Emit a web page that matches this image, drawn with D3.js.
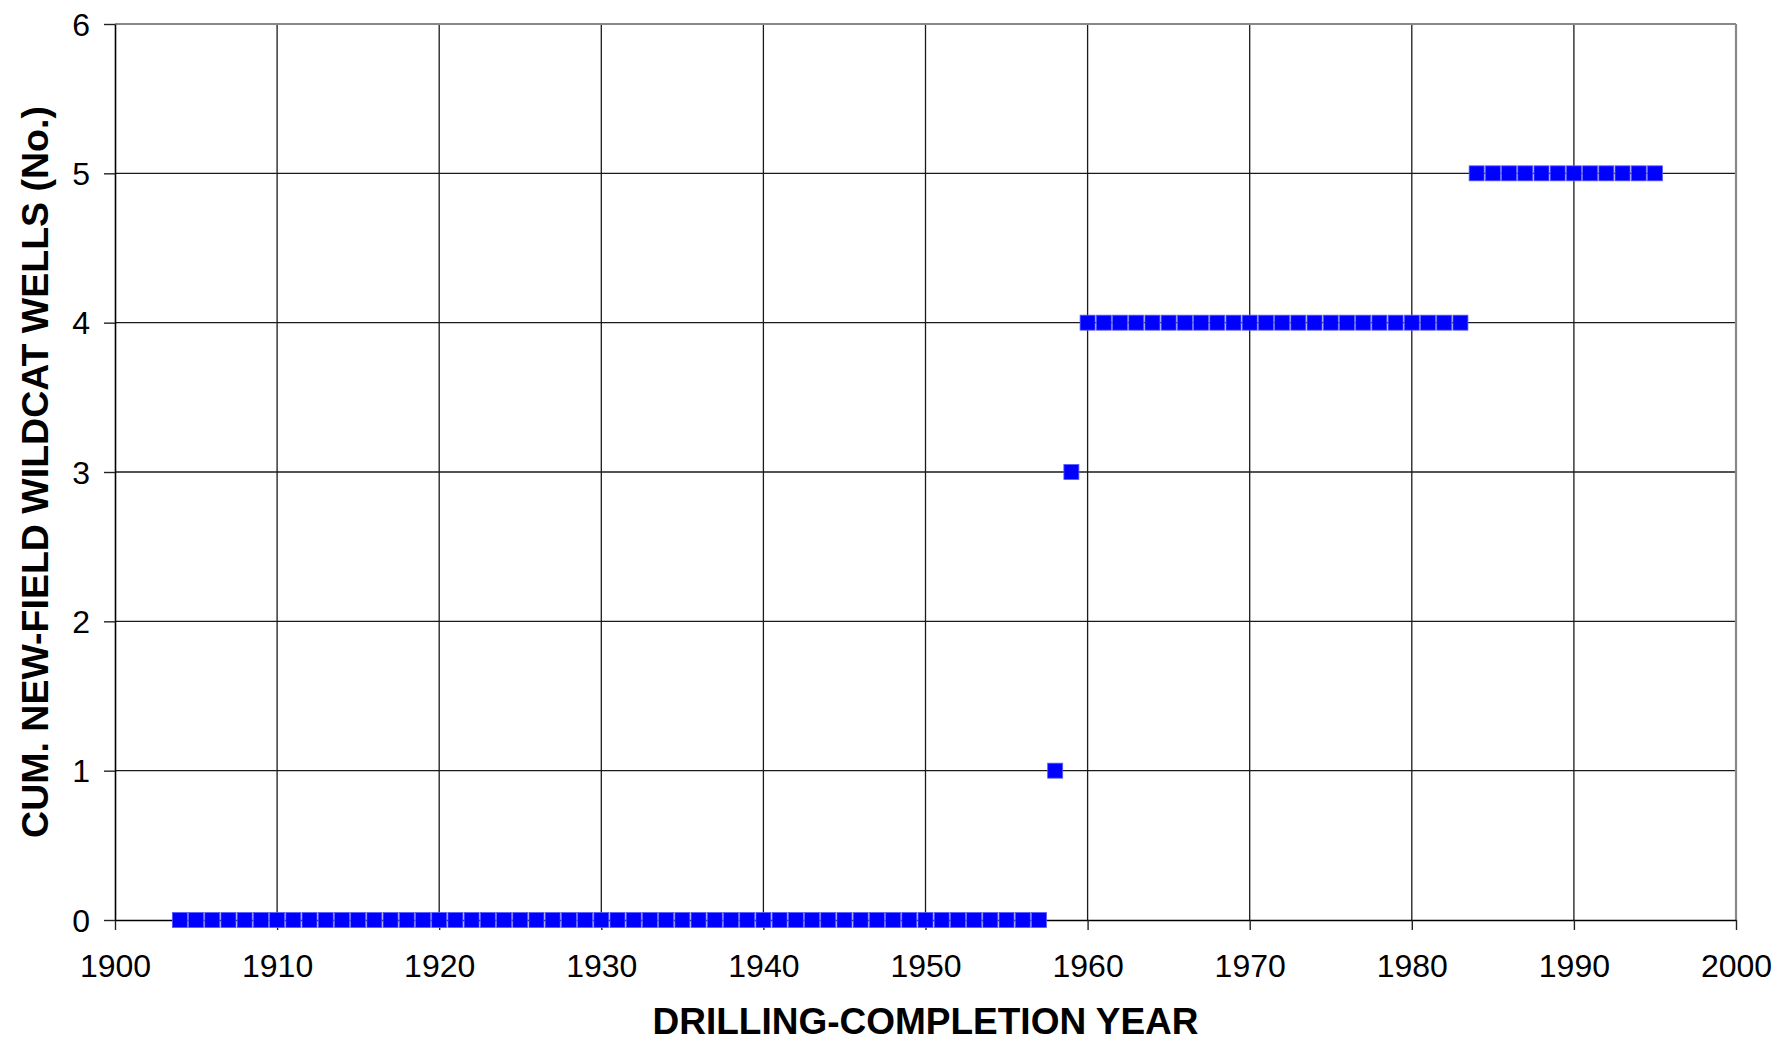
<!DOCTYPE html>
<html>
<head>
<meta charset="utf-8">
<script src="https://cdn.jsdelivr.net/npm/d3@7"></script>
<style>
  html, body { margin: 0; padding: 0; background: #fff; }
  svg { display: block; font-family: Arial, "Liberation Sans", sans-serif; }
</style>
</head>
<body>
<svg id="chart" width="1777" height="1042"></svg>
<script>
// Data
const years0 = d3.range(1904, 1958);           // 1904..1957 -> 0
const years1 = [1958];                          // 1
const years3 = [1959];                          // 3
const years4 = d3.range(1960, 1984);           // 1960..1983 -> 4
const years5 = d3.range(1984, 1996);           // 1984..1995 -> 5
const cumWells = [
  ...years0.map(yr => [yr, 0]),
  ...years1.map(yr => [yr, 1]),
  ...years3.map(yr => [yr, 3]),
  ...years4.map(yr => [yr, 4]),
  ...years5.map(yr => [yr, 5])
];
const xTicks = [1900, 1910, 1920, 1930, 1940, 1950, 1960, 1970, 1980, 1990, 2000];
const yTicks = [0, 1, 2, 3, 4, 5, 6];
const xTitle = "DRILLING-COMPLETION YEAR";
const yTitle = "CUM. NEW-FIELD WILDCAT WELLS (No.)";

(function () {
const svg = d3.select("#chart");
const pL = 115, pR = 1736, pT = 24, pB = 920;

const x = d3.scaleLinear().domain([1900, 2000]).range([pL, pR]);
const y = d3.scaleLinear().domain([0, 6]).range([pB, pT]);

// Gridlines
const grid = svg.append("g");
grid.selectAll("line.h").data(yTicks.slice(1, -1)).enter().append("line")
  .attr("class", "h")
  .attr("x1", pL).attr("x2", pR)
  .attr("y1", d => y(d)).attr("y2", d => y(d))
  .attr("stroke", "#1a1a1a").attr("stroke-width", 1.3);
grid.selectAll("line.v").data(xTicks.slice(1, -1)).enter().append("line")
  .attr("class", "v")
  .attr("y1", pT).attr("y2", pB)
  .attr("x1", d => x(d)).attr("x2", d => x(d))
  .attr("stroke", "#1a1a1a").attr("stroke-width", 1.3);

// Top and right border (gray)
svg.append("line").attr("x1", pL).attr("x2", pR).attr("y1", pT).attr("y2", pT)
  .attr("stroke", "#888").attr("stroke-width", 2.2);
svg.append("line").attr("x1", pR).attr("x2", pR).attr("y1", pT).attr("y2", pB)
  .attr("stroke", "#888").attr("stroke-width", 2.2);

// Axes
const xAxis = d3.axisBottom(x).tickValues(xTicks).tickFormat(d3.format("d"))
  .tickSize(10).tickPadding(24).tickSizeOuter(0);
const yAxis = d3.axisLeft(y).tickValues(yTicks).tickFormat(d3.format("d"))
  .tickSize(11).tickPadding(14).tickSizeOuter(0);

const gx = svg.append("g").attr("transform", `translate(0,${pB})`).call(xAxis);
const gy = svg.append("g").attr("transform", `translate(${pL},0)`).call(yAxis);
[gx, gy].forEach(g => {
  g.select(".domain").attr("stroke", "#000").attr("stroke-width", 1.6);
  g.selectAll(".tick line").attr("stroke", "#222").attr("stroke-width", 1.4);
  g.selectAll(".tick text").attr("fill", "#000")
    .style("font-family", "Arial, 'Liberation Sans', sans-serif")
    .style("font-size", "32px");
});
gy.selectAll(".tick text").attr("dy", "0.35em");
gx.selectAll(".tick text").attr("dy", "0.71em");

// Markers
const ms = 15;
svg.append("g").selectAll("rect").data(cumWells).enter().append("rect")
  .attr("x", d => x(d[0]) - ms / 2)
  .attr("y", d => y(d[1]) - ms / 2)
  .attr("width", ms).attr("height", ms)
  .attr("fill", "#0000ff")
  .attr("stroke", "#5a5aff").attr("stroke-width", 0.8);

// Titles
svg.append("text")
  .attr("x", (pL + pR) / 2).attr("y", 1034)
  .attr("text-anchor", "middle")
  .style("font-size", "37px").style("font-weight", "bold")
  .text(xTitle);

svg.append("text")
  .attr("transform", `translate(48,${(pT + pB) / 2}) rotate(-90)`)
  .attr("text-anchor", "middle")
  .style("font-size", "37.5px").style("font-weight", "bold")
  .text(yTitle);
})();
</script>
</body>
</html>
